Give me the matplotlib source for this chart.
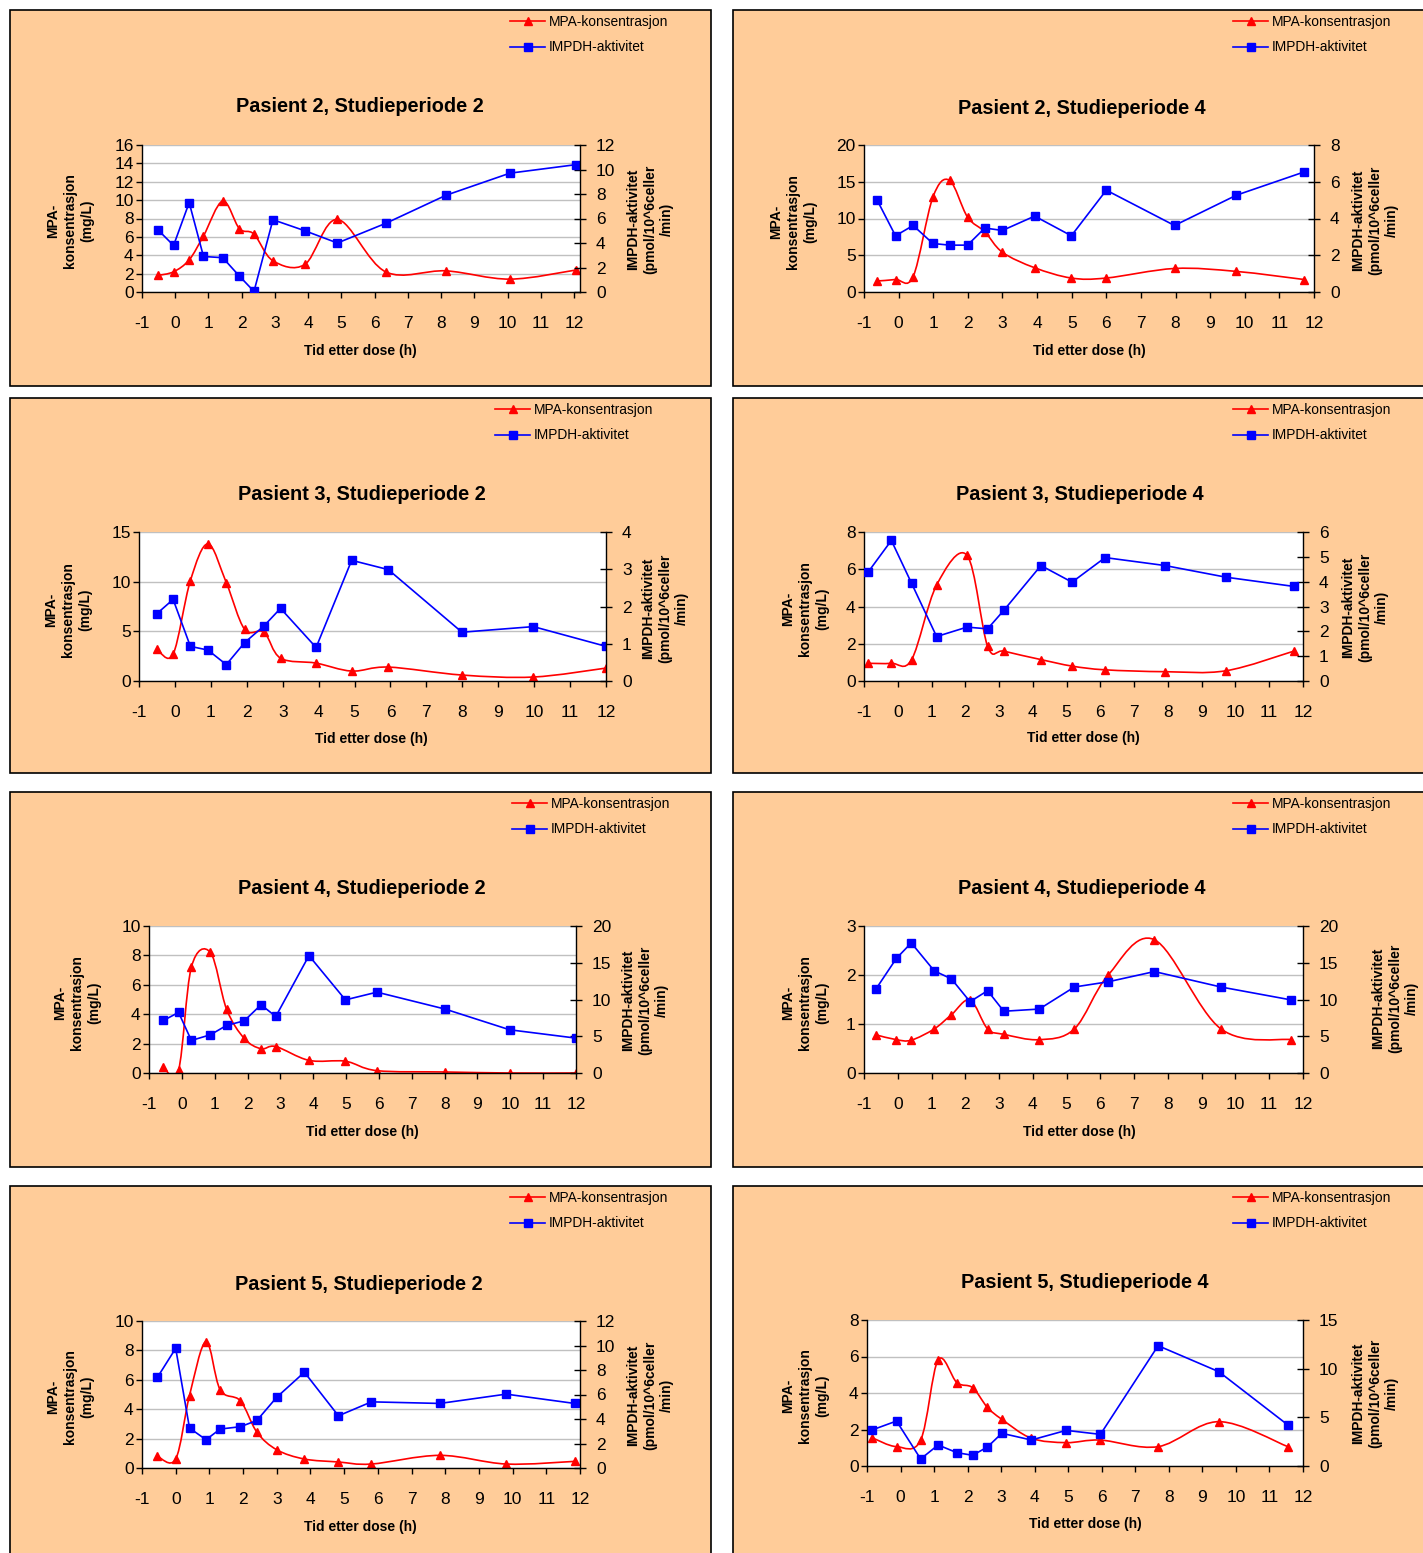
import numpy as np
import matplotlib
matplotlib.use("Agg")
import matplotlib.pyplot as plt
from matplotlib.path import Path
from matplotlib.patches import PathPatch, Rectangle

plt.rcParams['font.family'] = ['Liberation Sans', 'DejaVu Sans']
plt.rcParams['axes.unicode_minus'] = False

W, H = 1423, 1553

# ---- data: tid etter dose (h), MPA (mg/L), IMPDH (pmol/10^6celler/min) ----
titles = ["Pasient 2, Studieperiode 2", "Pasient 2, Studieperiode 4",
          "Pasient 3, Studieperiode 2", "Pasient 3, Studieperiode 4",
          "Pasient 4, Studieperiode 2", "Pasient 4, Studieperiode 4",
          "Pasient 5, Studieperiode 2", "Pasient 5, Studieperiode 4"]

p2_sp2_tid = [-0.53, -0.05, 0.42, 0.85, 1.43, 1.93, 2.37, 2.94, 3.9, 4.88, 6.33, 8.15, 10.07, 12.07]
p2_sp2_mpa = [1.8, 2.2, 3.5, 6.1, 9.9, 6.9, 6.3, 3.4, 3.0, 7.9, 2.2, 2.3, 1.4, 2.4]
p2_sp2_impdh = [5.1, 3.8, 7.3, 2.9, 2.8, 1.3, 0.05, 5.9, 5.0, 4.0, 5.6, 7.9, 9.7, 10.4]

p2_sp4_tid = [-0.62, -0.09, 0.42, 0.99, 1.47, 1.99, 2.49, 3.0, 3.93, 4.99, 6.0, 7.97, 9.76, 11.71]
p2_sp4_mpa = [1.5, 1.7, 2.1, 12.9, 15.2, 10.2, 8.2, 5.4, 3.3, 1.9, 1.9, 3.2, 2.8, 1.7]
p2_sp4_impdh = [5.0, 3.06, 3.62, 2.64, 2.55, 2.55, 3.48, 3.35, 4.13, 3.06, 5.54, 3.62, 5.27, 6.53]

p3_sp2_tid = [-0.5, -0.05, 0.43, 0.92, 1.43, 1.94, 2.48, 2.94, 3.93, 4.92, 5.94, 7.99, 9.98, 12.0]
p3_sp2_mpa = [3.2, 2.7, 10.1, 13.8, 9.9, 5.2, 4.9, 2.3, 1.8, 1.0, 1.4, 0.6, 0.4, 1.3]
p3_sp2_impdh = [1.81, 2.19, 0.93, 0.83, 0.44, 1.03, 1.48, 1.95, 0.9, 3.24, 2.99, 1.31, 1.46, 0.93]

p3_sp4_tid = [-0.87, -0.19, 0.41, 1.15, 2.05, 2.66, 3.15, 4.24, 5.16, 6.14, 7.91, 9.72, 11.72]
p3_sp4_mpa = [0.95, 0.95, 1.15, 5.15, 6.75, 1.87, 1.6, 1.15, 0.8, 0.6, 0.5, 0.55, 1.6]
p3_sp4_impdh = [4.4, 5.66, 3.93, 1.79, 2.17, 2.1, 2.86, 4.65, 3.98, 4.97, 4.65, 4.18, 3.81]

p4_sp2_tid = [-0.56, -0.1, 0.29, 0.87, 1.36, 1.9, 2.41, 2.86, 3.87, 4.98, 5.94, 8.02, 9.98, 11.99]
p4_sp2_mpa = [0.38, 0.2, 7.2, 8.2, 4.35, 2.35, 1.65, 1.8, 0.86, 0.8, 0.16, 0.07, 0.0, 0.0]
p4_sp2_impdh = [7.15, 8.24, 4.43, 5.2, 6.47, 7.1, 9.28, 7.69, 15.97, 9.95, 11.0, 8.69, 5.88, 4.75]

p4_sp4_tid = [-0.65, -0.04, 0.4, 1.08, 1.59, 2.14, 2.66, 3.14, 4.19, 5.23, 6.22, 7.6, 9.57, 11.64]
p4_sp4_mpa = [0.78, 0.68, 0.67, 0.9, 1.19, 1.49, 0.9, 0.79, 0.68, 0.9, 1.99, 2.72, 0.9, 0.68]
p4_sp4_impdh = [11.4, 15.6, 17.7, 13.9, 12.8, 9.7, 11.2, 8.4, 8.7, 11.7, 12.4, 13.8, 11.7, 9.95]

p5_sp2_tid = [-0.54, 0.0, 0.41, 0.9, 1.32, 1.92, 2.41, 3.0, 3.82, 4.83, 5.81, 7.84, 9.81, 11.84]
p5_sp2_mpa = [0.79, 0.61, 4.93, 8.6, 5.32, 4.57, 2.44, 1.24, 0.61, 0.41, 0.27, 0.86, 0.27, 0.45]
p5_sp2_impdh = [7.41, 9.77, 3.26, 2.31, 3.18, 3.37, 3.88, 5.78, 7.82, 4.26, 5.4, 5.27, 6.03, 5.27]

p5_sp4_tid = [-0.85, -0.12, 0.6, 1.12, 1.68, 2.15, 2.59, 3.02, 3.9, 4.94, 5.96, 7.68, 9.49, 11.55]
p5_sp4_mpa = [1.55, 1.06, 1.42, 5.81, 4.57, 4.29, 3.21, 2.56, 1.52, 1.28, 1.42, 1.06, 2.43, 1.06]
p5_sp4_impdh = [3.7, 4.62, 0.72, 2.16, 1.37, 1.1, 1.95, 3.36, 2.67, 3.66, 3.25, 12.36, 9.69, 4.21]

series = [(p2_sp2_tid, p2_sp2_mpa, p2_sp2_impdh), (p2_sp4_tid, p2_sp4_mpa, p2_sp4_impdh),
          (p3_sp2_tid, p3_sp2_mpa, p3_sp2_impdh), (p3_sp4_tid, p3_sp4_mpa, p3_sp4_impdh),
          (p4_sp2_tid, p4_sp2_mpa, p4_sp2_impdh), (p4_sp4_tid, p4_sp4_mpa, p4_sp4_impdh),
          (p5_sp2_tid, p5_sp2_mpa, p5_sp2_impdh), (p5_sp4_tid, p5_sp4_mpa, p5_sp4_impdh)]

# axis scales (max, step) for the two y axes
mpa_max = [16, 20, 15, 8, 10, 3, 10, 8]
mpa_step = [2, 5, 5, 2, 2, 1, 2, 2]
impdh_max = [12, 8, 4, 6, 20, 20, 12, 15]
impdh_step = [2, 2, 1, 1, 5, 5, 2, 5]
x_max = [12.18, 12, 12, 12, 12, 12, 12, 12]

# ---- layout in pixels ----
panel_box = [(10, 10, 711, 386), (733, 10, 1440, 386), (10, 398, 711, 773), (733, 398, 1440, 773),
             (10, 792, 711, 1167), (733, 792, 1440, 1167), (10, 1186, 711, 1570), (733, 1186, 1440, 1570)]
plot_box = [(142, 145, 580, 292), (864, 145, 1314, 292), (139, 532, 606, 681), (864, 532, 1303, 681),
            (149, 926, 576, 1073), (864, 926, 1303, 1073), (142, 1321, 580, 1468), (867, 1320, 1303, 1466)]
title_xy = [(360, 107), (1082, 108), (362, 495), (1080, 495), (362, 888), (1082, 888), (359, 1284), (1085, 1283)]
xlabel_xy = [(360, 351), (1089, 351), (371, 739), (1083, 738), (362, 1132), (1079, 1132), (360, 1527), (1085, 1524)]
ylab_l = [(70, 221), (793, 222), (68, 610), (805, 609), (77, 1003), (805, 1003), (70, 1397), (805, 1396)]
ylab_r = [(650, 219), (1375, 220), (665, 608), (1365, 607), (645, 1000), (1395, 998), (650, 1395), (1375, 1393)]
legend_xy = [(510, 21), (1233, 21), (495, 409), (1233, 409), (512, 803), (1233, 803), (510, 1197), (1233, 1197)]


def fx(px):
    return px / W


def fy(py):
    return 1 - py / H


# excel-like smoothed line (catmull-rom as bezier segments)
def smooth_path(x, y):
    x = np.asarray(x, float)
    y = np.asarray(y, float)
    n = len(x)
    verts = [(x[0], y[0])]
    codes = [Path.MOVETO]
    for i in range(n - 1):
        i0 = max(i - 1, 0)
        i3 = min(i + 2, n - 1)
        c1 = (x[i] + (x[i + 1] - x[i0]) / 6, y[i] + (y[i + 1] - y[i0]) / 6)
        c2 = (x[i + 1] - (x[i3] - x[i]) / 6, y[i + 1] - (y[i3] - y[i]) / 6)
        verts += [c1, c2, (x[i + 1], y[i + 1])]
        codes += [Path.CURVE4] * 3
    return Path(verts, codes)


fig = plt.figure(figsize=(W / 100, H / 100), dpi=100, facecolor='white')

for k in range(8):
    tid, mpa, impdh = series[k]

    # peach background box
    x0, y0, x1, y1 = panel_box[k]
    fig.add_artist(Rectangle((fx(x0), fy(y1)), (x1 - x0) / W, (y1 - y0) / H,
                             transform=fig.transFigure, fc='#FFCC99', ec='black', lw=1.2, zorder=-5))

    x0, y0, x1, y1 = plot_box[k]
    ax = fig.add_axes([fx(x0), fy(y1), (x1 - x0) / W, (y1 - y0) / H])
    ax.set_facecolor('white')
    ax2 = ax.twinx()

    # MPA, smoothed red line
    ax.add_patch(PathPatch(smooth_path(tid, mpa), fill=False, ec='#FF0000', lw=1.2))
    ax.plot(tid, mpa, ls='none', marker='^', ms=6, color='#FF0000', mec='#FF0000')
    h1, = ax.plot([], [], color='#FF0000', lw=1.2, marker='^', ms=6, label='MPA-konsentrasjon')

    # IMPDH, straight blue line
    h2, = ax2.plot(tid, impdh, color='#0000FF', lw=1.2, marker='s', ms=5.5, label='IMPDH-aktivitet')

    ax.set_xlim(-1, x_max[k])
    ax.set_xticks(range(-1, 13))
    ax.set_ylim(0, mpa_max[k])
    ax.set_yticks(np.arange(0, mpa_max[k] + 0.01, mpa_step[k]))
    ax2.set_ylim(0, impdh_max[k])
    ax2.set_yticks(np.arange(0, impdh_max[k] + 0.01, impdh_step[k]))
    ax.yaxis.set_major_formatter(plt.FormatStrFormatter('%g'))
    ax2.yaxis.set_major_formatter(plt.FormatStrFormatter('%g'))

    ax.yaxis.grid(True, color='#C0C0C0', lw=1)
    ax.set_axisbelow(True)
    for a in (ax, ax2):
        a.spines['top'].set_visible(False)
        for s in a.spines.values():
            s.set_color('black')
            s.set_linewidth(1)
    ax.spines['right'].set_visible(False)
    ax2.spines['left'].set_visible(False)
    ax2.spines['bottom'].set_visible(False)

    ax.tick_params(axis='x', direction='out', length=4.3, width=1, pad=13, labelsize=12.5)
    ax.tick_params(axis='y', direction='out', length=4, width=1, pad=2, labelsize=12.5)
    ax2.tick_params(axis='y', direction='inout', length=9, width=1, pad=7, labelsize=12.5)

    # texts
    tx, ty = title_xy[k]
    fig.text(fx(tx), fy(ty), titles[k], ha='center', va='center', fontsize=14.3, fontweight='bold')
    tx, ty = xlabel_xy[k]
    fig.text(fx(tx), fy(ty), 'Tid etter dose (h)', ha='center', va='center', fontsize=10, fontweight='bold')
    tx, ty = ylab_l[k]
    fig.text(fx(tx), fy(ty), 'MPA-\nkonsentrasjon\n(mg/L)', ha='center', va='center', rotation=90,
             fontsize=10, fontweight='bold', linespacing=1.3, multialignment='center')
    tx, ty = ylab_r[k]
    fig.text(fx(tx), fy(ty), 'IMPDH-aktivitet\n(pmol/10^6celler\n/min)', ha='center', va='center',
             rotation=90, fontsize=10, fontweight='bold', linespacing=1.3, multialignment='center')

    lx, ly = legend_xy[k]
    fig.legend(handles=[h1, h2], loc='upper left', bbox_to_anchor=(fx(lx), fy(ly - 6)),
               frameon=False, fontsize=9.9, handlelength=2.55, handletextpad=0.25,
               labelspacing=0.83, borderpad=0, borderaxespad=0)

fig.savefig('out.png', dpi=100, facecolor='white')
